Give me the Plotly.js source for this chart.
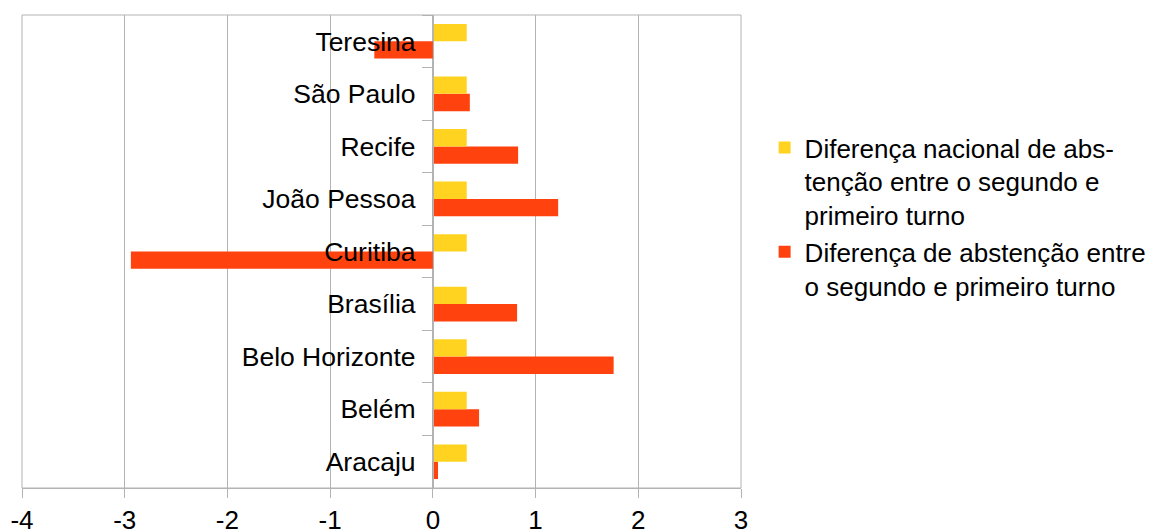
<!DOCTYPE html>
<html>
<head>
<meta charset="utf-8">
<script src="https://cdn.plot.ly/plotly-3.0.1.min.js"></script>
<style>html,body{margin:0;padding:0;background:#fff;}#chart{width:1155px;height:530px;}</style>
</head>
<body>
<div id="chart"></div>
<script>
const cities = ["Aracaju","Belém","Belo Horizonte","Brasília","Curitiba","João Pessoa","Recife","São Paulo","Teresina"];
const nacional = [0.33,0.33,0.33,0.33,0.33,0.33,0.33,0.33,0.33];
const cidade = [0.05,0.45,1.76,0.82,-2.94,1.22,0.83,0.36,-0.57];
const nameNacional = "Diferença nacional de abs-<br>tenção entre o segundo e<br>primeiro turno";
const nameCidade = "Diferença de abstenção entre<br>o segundo e primeiro turno";
const xTicks = [-4,-3,-2,-1,0,1,2,3];

const grid = "#b3b3b3";
const fam = "Liberation Sans, Arial, sans-serif";
const font = {family: fam, size: 26, color: "#000"};

const data = [
  {type: "bar", orientation: "h", y: cities, x: cidade, name: nameCidade,
   marker: {color: "#ff420e"}},
  {type: "bar", orientation: "h", y: cities, x: nacional, name: nameNacional,
   marker: {color: "#ffd320"}}
];

const layout = {
  width: 1155, height: 530,
  margin: {l: 22, r: 414, t: 15, b: 42, pad: 0},
  paper_bgcolor: "#fff", plot_bgcolor: "#fff",
  font: font,
  barmode: "group", bargap: 0.34, bargroupgap: 0,
  showlegend: true,
  legend: {traceorder: "reversed", xref: "container", yref: "container",
           x: 0.662, y: 0.766, xanchor: "left", yanchor: "top", valign: "top",
           font: {family: fam, size: 26, color: "#000"},
           itemwidth: 30, tracegroupgap: 0, bgcolor: "rgba(0,0,0,0)"},
  xaxis: {range: [-4, 3], tickvals: xTicks, ticktext: xTicks.map(String),
          showgrid: true, gridcolor: grid, gridwidth: 1, zeroline: false,
          showline: true, linecolor: grid, linewidth: 1,
          ticks: "outside", ticklen: 9, tickcolor: grid, tickwidth: 1,
          tickfont: font, fixedrange: true},
  yaxis: {type: "category", categoryorder: "array", categoryarray: cities,
          anchor: "free", position: 4/7, showgrid: false, zeroline: false,
          showline: true, linecolor: grid, linewidth: 1,
          ticks: "outside", tickson: "boundaries", ticklen: 11, tickcolor: grid, tickwidth: 1,
          ticklabelstandoff: 12,
          tickfont: {family: fam, size: 26.5, color: "#000"}, fixedrange: true, layer: "above traces"},
  shapes: [{type: "rect", xref: "paper", yref: "paper", x0: 0, x1: 1, y0: 0, y1: 1,
            line: {color: grid, width: 1}, fillcolor: "rgba(0,0,0,0)", layer: "below"}]
};

Plotly.newPlot("chart", data, layout, {displayModeBar: false, staticPlot: true});
</script>
</body>
</html>
